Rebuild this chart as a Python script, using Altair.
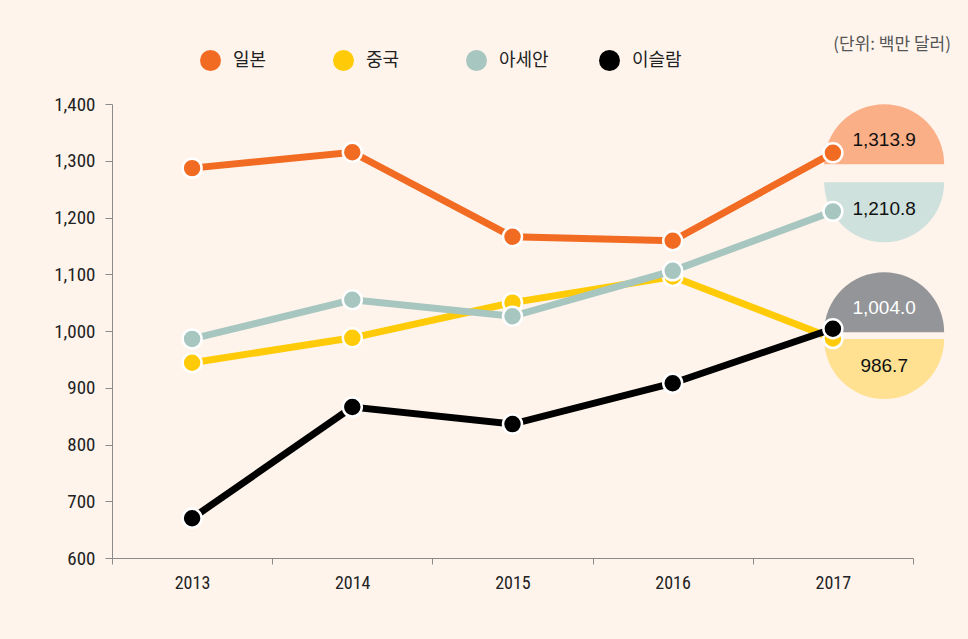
import altair as alt
import pandas as pd

# ---- data -----------------------------------------------------------
years = [2013, 2014, 2015, 2016, 2017]
series_names = ["일본", "중국", "아세안", "이슬람"]
japan = [1287, 1315, 1166, 1159, 1313.9]
china = [944, 988, 1050, 1096, 986.7]
asean = [986, 1055, 1026, 1106, 1210.8]
islam = [670, 866, 836, 908, 1004.0]
series_colors = ["#F26B23", "#FFCB08", "#A6C6BF", "#000000"]

# drawing order (back to front)
draw_order = ["중국", "아세안", "일본", "이슬람"]
values_by_name = {"일본": japan, "중국": china, "아세안": asean, "이슬람": islam}

# badges (half circles) for the 2017 values
badge_series = ["일본", "아세안", "이슬람", "중국"]
badge_side = ["top", "bottom", "top", "bottom"]
badge_base = [1294, 1262, 998, 986]
badge_fill = ["#FBAF87", "#CFE1DD", "#939598", "#FFE191"]
badge_text_color = ["#111111", "#111111", "#FFFFFF", "#111111"]
badge_year = 2017.32

x_ticks = [2012.5, 2013.5, 2014.5, 2015.5, 2016.5, 2017.5]
y_ticks = [600, 700, 800, 900, 1000, 1100, 1200, 1300, 1400]

rows = []
for name in draw_order:
    for yr, v in zip(years, values_by_name[name]):
        rows.append({"year": yr, "value": v, "series": name})
df = pd.DataFrame(rows)

bdf = pd.DataFrame({
    "series": badge_series,
    "side": badge_side,
    "value": badge_base,
    "fill": badge_fill,
    "tcolor": badge_text_color,
    "year": [badge_year] * 4,
    "label": [values_by_name[s][-1] for s in badge_series],
})

NUM_FONT = "Liberation Sans Narrow, Roboto Condensed, Liberation Sans"
BADGE_FONT = "Liberation Sans"
KR_FONT = "Noto Sans CJK KR"

xscale = alt.Scale(domain=[2012.5, 2017.5], nice=False, zero=False)
yscale = alt.Scale(domain=[600, 1400], nice=False, zero=False)

x_axis = alt.Axis(values=x_ticks, grid=False, tickSize=6, labelOffset=80,
                  labelExpr="datum.value < 2017.4 ? toString(datum.value + 0.5) : ''",
                  labelFontSize=18, labelFont=NUM_FONT, labelColor="#222222",
                  labelPadding=10, domainColor="#8A8A8A", tickColor="#8A8A8A",
                  labelFlush=False, labelOverlap=False)
y_axis = alt.Axis(values=y_ticks, grid=False, tickSize=7, format=",.0f",
                  labelFontSize=19, labelFont=NUM_FONT, labelColor="#222222",
                  labelPadding=10, domainColor="#8A8A8A", tickColor="#8A8A8A")

x_enc = alt.X("year:Q", scale=xscale, title=None, axis=x_axis)
y_enc = alt.Y("value:Q", scale=yscale, title=None, axis=y_axis)

legend = alt.Legend(
    title=None, orient="none", legendX=88, legendY=-54, direction="horizontal",
    columns=4, gridAlign="all", columnPadding=50, symbolType="circle",
    symbolSize=440, symbolStrokeWidth=0, labelFontSize=18, labelFont=KR_FONT,
    labelColor="#222222", labelOffset=12,
)
color_enc = alt.Color("series:N",
                      scale=alt.Scale(domain=series_names, range=series_colors),
                      legend=legend)

bbase = alt.Chart(bdf)
top_arcs = bbase.transform_filter("datum.side == 'top'").mark_arc(radius=60).encode(
    x=x_enc, y=y_enc,
    theta=alt.value(4.71239), theta2=alt.value(7.85398),
    fill=alt.Fill("fill:N", scale=None),
)
bottom_arcs = bbase.transform_filter("datum.side == 'bottom'").mark_arc(radius=60).encode(
    x=x_enc, y=y_enc,
    theta=alt.value(1.5708), theta2=alt.value(4.71239),
    fill=alt.Fill("fill:N", scale=None),
)
top_text = bbase.transform_filter("datum.side == 'top'").mark_text(
    dy=-24, fontSize=19, font=BADGE_FONT).encode(
    x=x_enc, y=y_enc, text=alt.Text("label:Q", format=",.1f"),
    color=alt.Color("tcolor:N", scale=None),
)
bottom_text = bbase.transform_filter("datum.side == 'bottom'").mark_text(
    dy=27, fontSize=19, font=BADGE_FONT).encode(
    x=x_enc, y=y_enc, text=alt.Text("label:Q", format=",.1f"),
    color=alt.Color("tcolor:N", scale=None),
)

series_layers = []
for name in draw_order:
    sub = alt.Chart(df).transform_filter(alt.datum.series == name)
    series_layers.append(
        sub.mark_line(strokeWidth=7).encode(x=x_enc, y=y_enc, color=color_enc)
    )
    series_layers.append(
        sub.mark_point(filled=True, shape="circle", size=360, stroke="white",
                       strokeWidth=2.5, opacity=1).encode(x=x_enc, y=y_enc,
                                                          color=color_enc)
    )

chart = alt.layer(
    top_arcs, bottom_arcs, *series_layers, top_text, bottom_text
).properties(
    width=801, height=454,
    background="#FEF4EC",
    padding={"left": 112, "top": 104, "right": 55, "bottom": 81},
    autosize=alt.AutoSizeParams(type="none"),
    title=alt.TitleParams(
        "(단위: 백만 달러)", anchor="end", frame="group", orient="top",
        dx=38, offset=0, dy=4, fontSize=17, font=KR_FONT, fontWeight="normal",
        color="#555555",
    ),
).configure_view(stroke=None)

chart.save("out.html", embed_options={"renderer": "svg", "actions": False})
